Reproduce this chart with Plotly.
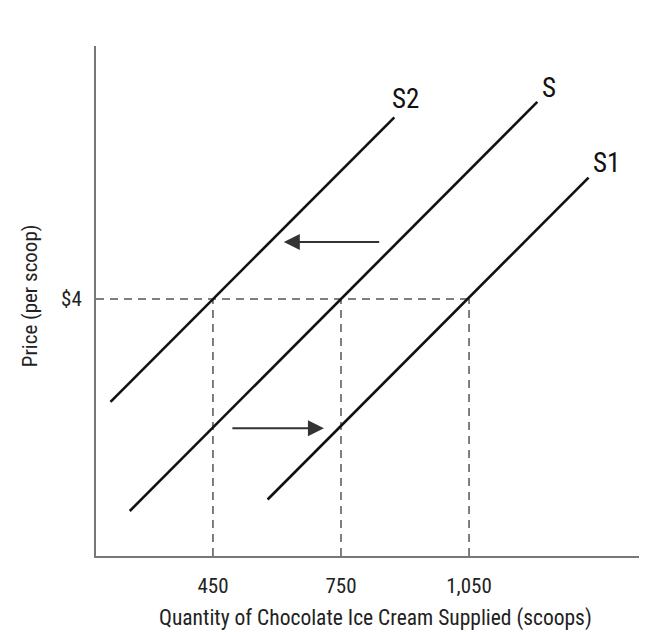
import plotly.graph_objects as go

# ---- data ----
curve_names = ["S2", "S", "S1"]
curve_q = [[210, 875], [255, 1210], [578, 1330]]
curve_p = [[2.4, 6.83], [0.7, 7.07], [0.88, 5.89]]
label_q = [902, 1237, 1372]
label_p = [7.12, 7.28, 6.12]

ref_price = 4
ref_quantities = [450, 750, 1050]
x_tick_vals = [450, 750, 1050]
x_tick_text = ["450", "750", "1,050"]
y_tick_vals = [4]
y_tick_text = ["$4"]

# shift arrows: (tail_q, tip_q, price)
arrow_tail_q = [843, 492]
arrow_tip_q = [616, 710]
arrow_p = [4.89, 1.99]

x_title = "Quantity of Chocolate Ice Cream Supplied (scoops)"
y_title = "Price (per scoop)"

X_RANGE = [176, 1481]
Y_RANGE = [0, 7.94]

FONT = "Roboto Condensed, Liberation Sans Narrow, DejaVu Sans Condensed, sans-serif"

fig = go.Figure()

# dashed reference lines
fig.add_trace(go.Scatter(x=[X_RANGE[0], max(ref_quantities)], y=[ref_price, ref_price],
                         mode="lines", line=dict(color="#555", width=1.5, dash="8px,6px"),
                         hoverinfo="skip", showlegend=False))
for q in ref_quantities:
    fig.add_trace(go.Scatter(x=[q, q], y=[Y_RANGE[0], ref_price], mode="lines",
                             line=dict(color="#555", width=1.5, dash="8px,6px"),
                             hoverinfo="skip", showlegend=False))

# supply curves
for name, xs, ys in zip(curve_names, curve_q, curve_p):
    fig.add_trace(go.Scatter(x=xs, y=ys, mode="lines", name=name,
                             line=dict(color="#111", width=2.6), showlegend=False))

annotations = []
for name, q, p in zip(curve_names, label_q, label_p):
    annotations.append(dict(x=q, y=p, xref="x", yref="y", text=name, showarrow=False,
                            font=dict(family=FONT, size=27, color="#111")))

for tq, hq, p in zip(arrow_tail_q, arrow_tip_q, arrow_p):
    annotations.append(dict(x=hq, y=p, ax=tq, ay=p, xref="x", yref="y", axref="x", ayref="y",
                            text="", showarrow=True, arrowhead=2, arrowsize=1.6,
                            arrowwidth=2, arrowcolor="#333"))

annotations.append(dict(x=0.501, y=-0.122, xref="paper", yref="paper", text=x_title,
                        showarrow=False, font=dict(family=FONT, size=21.5, color="#222"),
                        xanchor="center", yanchor="middle"))
annotations.append(dict(x=-0.118, y=0.51, xref="paper", yref="paper", text=y_title,
                        showarrow=False, textangle=-90,
                        font=dict(family=FONT, size=21, color="#222"),
                        xanchor="center", yanchor="middle"))

fig.update_layout(
    width=647, height=632,
    margin=dict(l=88, r=2, t=38, b=84),
    paper_bgcolor="white", plot_bgcolor="white",
    annotations=annotations,
    font=dict(family=FONT, color="#222"),
)
fig.update_xaxes(range=X_RANGE, showgrid=False, zeroline=False, showline=True, automargin=False,
                 linecolor="#777", linewidth=2, tickvals=x_tick_vals, ticktext=x_tick_text,
                 ticks="", tickfont=dict(family=FONT, size=21, color="#222"),
                 ticklabelstandoff=10)
fig.update_yaxes(range=Y_RANGE, showgrid=False, zeroline=False, showline=True, automargin=False,
                 linecolor="#777", linewidth=2, tickvals=y_tick_vals, ticktext=y_tick_text,
                 ticks="", tickfont=dict(family=FONT, size=21, color="#222"),
                 ticklabelstandoff=8)

fig.write_html("out.html")
